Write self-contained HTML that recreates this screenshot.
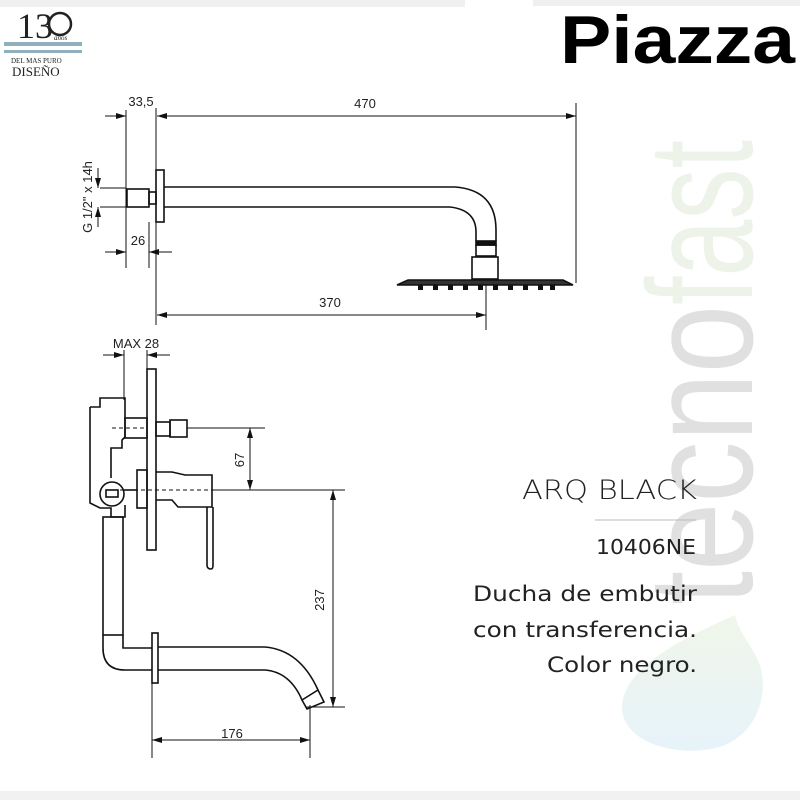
<!DOCTYPE html>
<html><head><meta charset="utf-8"><style>
html,body{margin:0;padding:0;background:#fff}
svg{display:block}
</style></head><body>
<svg width="800" height="800" viewBox="0 0 800 800" xmlns="http://www.w3.org/2000/svg" font-family="'Liberation Sans', 'DejaVu Sans', sans-serif">
<defs>
<marker id="a" viewBox="0 0 10 6" refX="10" refY="3" markerWidth="10" markerHeight="6" orient="auto-start-reverse" markerUnits="userSpaceOnUse"><path d="M0,0L10,3L0,6z" fill="#111"/></marker>
<linearGradient id="drop" x1="0" y1="0" x2="0" y2="1"><stop offset="0" stop-color="#f0f6ea"/><stop offset="1" stop-color="#e6f3f9"/></linearGradient>
</defs>
<rect x="0" y="0" width="465" height="7" fill="#f0f0f0"/>
<rect x="533" y="0" width="267" height="6" fill="#f0f0f0"/>
<rect x="0" y="791" width="800" height="9" fill="#f1f1f1"/>

<!-- watermark -->
<path d="M735,615 C690,635 625,665 622,705 C620,745 685,760 725,745 C760,730 768,690 760,665 C752,645 738,632 735,615z" fill="url(#drop)"/>
<g transform="translate(752,605) rotate(-90)">
<text x="0" y="0" font-size="150" fill="#e0e0e0" textLength="300" lengthAdjust="spacingAndGlyphs">tecno</text>
<text x="300" y="0" font-size="150" fill="#eef3ea" textLength="165" lengthAdjust="spacingAndGlyphs">fast</text>
</g>

<!-- logo -->
<text x="17" y="38" font-family="'Liberation Serif',serif" font-size="36" fill="#222">13</text>
<circle cx="60" cy="24" r="11" fill="none" stroke="#222" stroke-width="2.5"/>
<text x="54" y="40" font-family="'Liberation Serif',serif" font-size="7" font-style="italic" fill="#222">años</text>
<rect x="4" y="42" width="78" height="4" fill="#8fb0bc"/>
<rect x="4" y="50" width="78" height="3" fill="#8fb0bc"/>
<text x="11" y="63" font-family="'Liberation Serif',serif" font-size="7" fill="#222">DEL MAS PURO</text>
<text x="12" y="76" font-family="'Liberation Serif',serif" font-size="13" fill="#222">DISEÑO</text>

<text x="560" y="63" font-size="68" font-weight="bold" fill="#000" textLength="235" lengthAdjust="spacingAndGlyphs">Piazza</text>

<g stroke="#111" fill="none" stroke-width="1">
<line x1="105" y1="116" x2="126" y2="116" marker-end="url(#a)"/>
<line x1="157" y1="116" x2="576" y2="116" marker-start="url(#a)" marker-end="url(#a)"/>
<line x1="126" y1="110" x2="126" y2="268"/>
<line x1="156" y1="108" x2="156" y2="325"/>
<line x1="576" y1="103" x2="576" y2="283"/>
<line x1="100" y1="188" x2="126" y2="188"/>
<line x1="100" y1="207" x2="126" y2="207"/>
<line x1="98" y1="168" x2="98" y2="188" marker-end="url(#a)"/>
<line x1="98" y1="227" x2="98" y2="207" marker-end="url(#a)"/>
<line x1="149" y1="222" x2="149" y2="268"/>
<line x1="105" y1="252" x2="126" y2="252" marker-end="url(#a)"/>
<line x1="172" y1="252" x2="149" y2="252" marker-end="url(#a)"/>
<line x1="157" y1="315" x2="486" y2="315" marker-start="url(#a)" marker-end="url(#a)"/>
<line x1="486" y1="285" x2="486" y2="330"/>
</g>
<g stroke="#111" fill="none" stroke-width="1.6">
<rect x="156" y="170" width="8" height="52"/>
<rect x="127" y="189" width="22" height="18"/>
<rect x="149" y="192" width="7" height="12"/>
<path d="M164,187 H455 Q496,190 496,230 V241"/>
<path d="M164,207 H450 Q476,210 476,232 V241"/>
<rect x="476" y="241" width="20" height="4" fill="#111"/>
<rect x="476" y="245" width="20" height="11"/>
<rect x="472" y="257" width="26" height="22"/>
<path d="M397,285 L408,280 H563 L573,285 Z" fill="#333"/>
</g>
<g fill="#111">
<rect x="418" y="285" width="5" height="5"/><rect x="433" y="285" width="5" height="5"/><rect x="448" y="285" width="5" height="5"/><rect x="463" y="285" width="5" height="5"/><rect x="478" y="285" width="5" height="5"/><rect x="493" y="285" width="5" height="5"/><rect x="508" y="285" width="5" height="5"/><rect x="523" y="285" width="5" height="5"/><rect x="538" y="285" width="5" height="5"/><rect x="550" y="285" width="5" height="5"/>
</g>
<g font-size="13" fill="#222" text-anchor="middle">
<text x="141" y="106">33,5</text>
<text x="365" y="108">470</text>
<text x="138" y="245">26</text>
<text x="330" y="307">370</text>
<text transform="translate(92,197) rotate(-90)">G 1/2" x 14h</text>
<text x="136" y="348">MAX 28</text>
<text transform="translate(244,460) rotate(-90)">67</text>
<text transform="translate(324,600) rotate(-90)">237</text>
<text x="232" y="738">176</text>
</g>

<g stroke="#111" fill="none" stroke-width="1">
<line x1="103" y1="355" x2="124" y2="355" marker-end="url(#a)"/>
<line x1="170" y1="355" x2="147" y2="355" marker-end="url(#a)"/>
<line x1="124" y1="350" x2="124" y2="400"/>
<line x1="147" y1="350" x2="147" y2="370"/>
<line x1="112" y1="428" x2="147" y2="428" stroke-dasharray="4,3"/>
<line x1="187" y1="428" x2="265" y2="428"/>
<line x1="250" y1="428" x2="250" y2="490" marker-start="url(#a)" marker-end="url(#a)"/>
<line x1="120" y1="490" x2="212" y2="490" stroke-dasharray="4,3"/>
<line x1="212" y1="490" x2="345" y2="490"/>
<line x1="333" y1="490" x2="333" y2="707" marker-start="url(#a)" marker-end="url(#a)"/>
<line x1="305" y1="707" x2="345" y2="707"/>
<line x1="152" y1="683" x2="152" y2="758"/>
<line x1="310" y1="705" x2="310" y2="758"/>
<line x1="152" y1="740" x2="310" y2="740" marker-start="url(#a)" marker-end="url(#a)"/>
</g>
<g stroke="#111" fill="none" stroke-width="1.6">
<rect x="147" y="369" width="9" height="181"/>
<path d="M90,407 H100 V398 H125 V437 L122,440 V448 H111 V478 M90,407 V503 L100,508 H111 V517 H125 V505"/>
<rect x="125" y="418" width="22" height="20"/>
<rect x="156" y="422" width="14" height="14"/>
<rect x="170" y="420" width="17" height="17"/>
<rect x="137" y="470" width="10" height="38"/>
<path d="M156,472 H172 L185,475 H212 V507 H178 L172,500 H156"/>
<path d="M207,507 V565 Q207,569 211,569 Q213,569 213,565 V507"/>
<circle cx="112" cy="494" r="12"/>
<rect x="106" y="490" width="12" height="7"/>
<line x1="124" y1="490" x2="137" y2="490"/>
<rect x="103" y="517" width="20" height="118"/>
<path d="M103,635 V648 Q103,670 125,670 H152"/>
<path d="M123,635 V648 H152"/>
<rect x="152" y="633" width="6" height="50"/>
<path d="M158,647 H265 Q300,650 318,690"/>
<path d="M158,670 H265 Q290,672 302,700"/>
<path d="M302,700 L318,690 L324,702 L307,709 Z"/>
</g>

<g fill="#222" font-family="'DejaVu Sans','Liberation Sans',sans-serif" text-anchor="end">
<text x="697" y="499" font-size="27" font-weight="300" textLength="175" lengthAdjust="spacingAndGlyphs">ARQ BLACK</text>
<text x="696" y="554" font-size="20" textLength="100" lengthAdjust="spacingAndGlyphs">10406NE</text>
<text x="697" y="601" font-size="21" textLength="224" lengthAdjust="spacingAndGlyphs">Ducha de embutir</text>
<text x="697" y="637" font-size="21" textLength="224" lengthAdjust="spacingAndGlyphs">con transferencia.</text>
<text x="697" y="672" font-size="21" textLength="150" lengthAdjust="spacingAndGlyphs">Color negro.</text>
</g>
<line x1="595" y1="520" x2="696" y2="520" stroke="#bbb" stroke-width="1"/>
</svg>
</body></html>
